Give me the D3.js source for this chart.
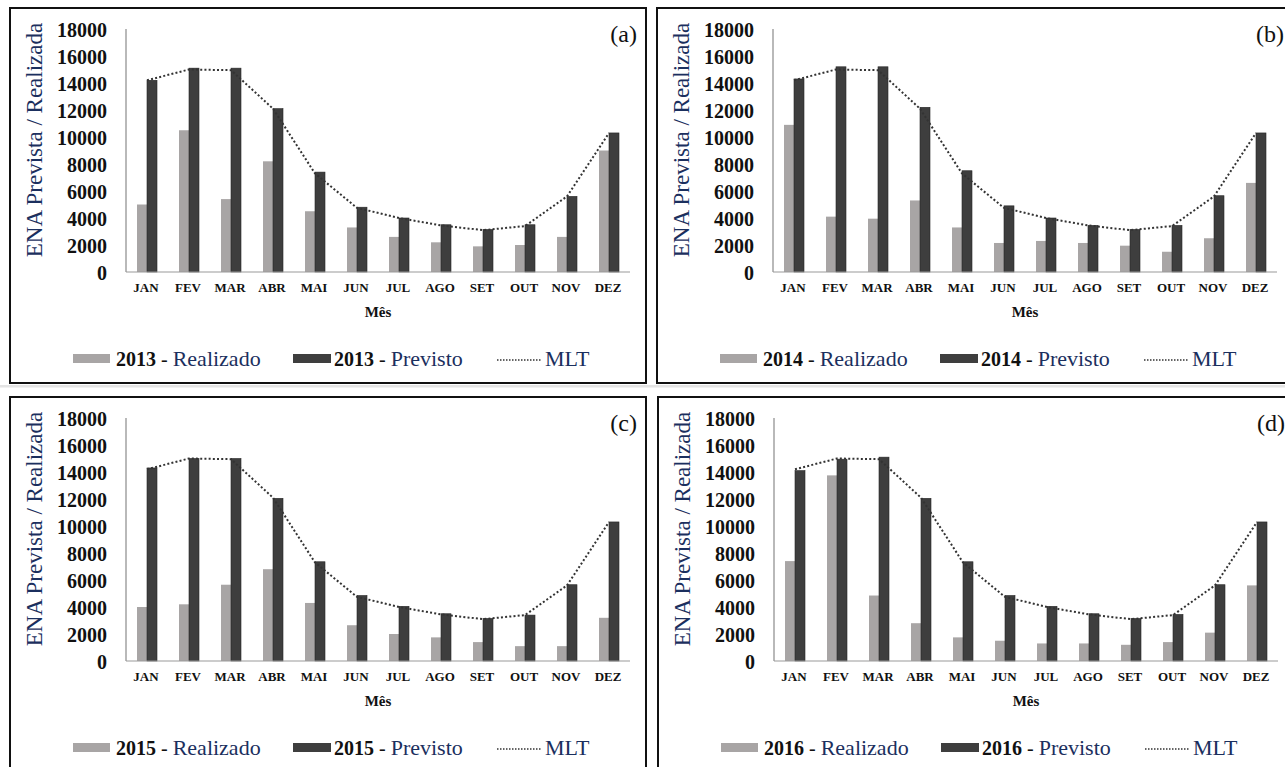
<!DOCTYPE html>
<html><head><meta charset="utf-8">
<script src="https://cdn.jsdelivr.net/npm/d3@7"></script>
<style>
html,body{margin:0;padding:0;background:#fff;}
</style></head>
<body>
<svg id="chart" width="1285" height="767"></svg>
<script>
const months = ["JAN","FEV","MAR","ABR","MAI","JUN","JUL","AGO","SET","OUT","NOV","DEZ"];
const yTicks = [0,2000,4000,6000,8000,10000,12000,14000,16000,18000];
const years = ["2013","2014","2015","2016"];
const panelLabels = ["(a)","(b)","(c)","(d)"];
const realizado2013 = [5000,10500,5400,8200,4500,3300,2600,2200,1900,2000,2600,9000];
const previsto2013  = [14200,15100,15100,12100,7400,4800,4000,3500,3150,3500,5600,10300];
const realizado2014 = [10900,4100,3950,5300,3300,2150,2300,2150,1950,1500,2500,6600];
const previsto2014  = [14300,15200,15200,12200,7500,4900,4000,3450,3150,3450,5650,10300];
const realizado2015 = [4000,4200,5650,6800,4300,2650,2000,1750,1400,1100,1100,3200];
const previsto2015  = [14300,15000,15000,12050,7350,4850,4050,3500,3150,3400,5650,10300];
const realizado2016 = [7400,13750,4850,2800,1750,1500,1300,1300,1200,1400,2100,5600];
const previsto2016  = [14100,14950,15100,12050,7350,4850,4050,3500,3150,3450,5650,10300];
const mlt = [14200,15000,14950,12100,7300,4750,4000,3450,3100,3400,5600,10300];

const realizado = [realizado2013, realizado2014, realizado2015, realizado2016];
const previsto = [previsto2013, previsto2014, previsto2015, previsto2016];

const FONT = "Liberation Serif";
const svg = d3.select("#chart");
svg.append("rect").attr("width",1285).attr("height",767).attr("fill","#fff");
svg.append("rect").attr("x",0).attr("y",385).attr("width",1285).attr("height",2.5).attr("fill","#e4e4e4");

const offsets = [[0,0],[647,0],[0,389],[648,389]];
const frameX = [10,657,10,658];
const navy = "#1b2f5e";
const grayC = "#a8a5a5", darkC = "#3e3e3e";

const x = d3.scaleBand().domain(months).range([126,630]).padding(0);
const inner = d3.scaleBand().domain(["r","p"]).range([0,x.bandwidth()]).paddingInner(0).paddingOuter(1.1);
const y = d3.scaleLinear().domain([0,18000]).range([272,29]);

function txt(sel){ return sel.append("text").style("font-family",FONT); }

years.forEach((yr,i)=>{
  const [dx,dy] = offsets[i];
  const g = svg.append("g").attr("transform",`translate(${dx},${dy})`).style("font-family",FONT);
  const gf = svg.append("g").attr("transform",`translate(0,${dy})`);
  gf.append("rect").attr("x",frameX[i]).attr("y",8).attr("width",636).attr("height",375)
    .attr("fill","none").attr("stroke","#111").attr("stroke-width",2);

  g.selectAll("rect.r").data(realizado[i]).join("rect").attr("class","r")
    .attr("x",(d,j)=>x(months[j])+inner("r")).attr("width",inner.bandwidth())
    .attr("y",d=>y(d)).attr("height",d=>y(0)-y(d)).attr("fill",grayC);
  g.selectAll("rect.p").data(previsto[i]).join("rect").attr("class","p")
    .attr("x",(d,j)=>x(months[j])+inner("p")).attr("width",inner.bandwidth())
    .attr("y",d=>y(d)).attr("height",d=>y(0)-y(d)).attr("fill",darkC)
    .attr("stroke","#262626").attr("stroke-width",0.6);

  g.append("line").attr("x1",126).attr("x2",126).attr("y1",y(18000)).attr("y2",y(0))
    .attr("stroke","#8a8a8a").attr("stroke-width",1.2);
  g.append("line").attr("x1",126).attr("x2",630).attr("y1",y(0)).attr("y2",y(0))
    .attr("stroke","#9a9a9a").attr("stroke-width",1.2);

  const line = d3.line().x((d,j)=>x(months[j])+x.bandwidth()/2).y(d=>y(d));
  g.append("path").datum(mlt).attr("d",line).attr("fill","none")
    .attr("stroke","#333").attr("stroke-width",2).attr("stroke-dasharray","2,2.2");

  g.selectAll("text.yt").data(yTicks).join("text").attr("class","yt").style("font-family",FONT)
    .attr("x",107).attr("y",d=>y(d)).attr("dy","0.4em").attr("text-anchor","end")
    .attr("font-weight","bold").attr("font-size",20).attr("fill","#111").text(d=>d);

  g.selectAll("text.xt").data(months).join("text").attr("class","xt").style("font-family",FONT)
    .attr("x",d=>x(d)+x.bandwidth()/2-1).attr("y",292).attr("text-anchor","middle")
    .attr("font-weight","bold").attr("font-size",13).attr("fill","#111").text(d=>d);

  txt(g).attr("x",378).attr("y",317).attr("text-anchor","middle")
    .attr("font-weight","bold").attr("font-size",15).attr("fill","#111").text("Mês");

  txt(g).attr("transform","translate(34,140) rotate(-90)").attr("dy","0.35em")
    .attr("text-anchor","middle").attr("font-size",23).attr("fill",navy).text("ENA Prevista / Realizada");

  txt(g).attr("x",637).attr("y",42).attr("text-anchor","end")
    .attr("font-size",24).attr("fill","#111").text(panelLabels[i]);

  g.append("rect").attr("x",73).attr("y",354).attr("width",37).attr("height",9).attr("fill",grayC);
  const t1 = txt(g).attr("x",116).attr("y",366).attr("fill","#111");
  t1.append("tspan").style("font-family",FONT).attr("font-weight","bold").attr("font-size",20).text(yr);
  t1.append("tspan").style("font-family",FONT).attr("font-size",20).text(" - ");
  t1.append("tspan").style("font-family",FONT).attr("font-size",22).attr("fill",navy).text("Realizado");

  g.append("rect").attr("x",293).attr("y",354).attr("width",38).attr("height",9).attr("fill",darkC);
  const t2 = txt(g).attr("x",334).attr("y",366).attr("fill","#111");
  t2.append("tspan").style("font-family",FONT).attr("font-weight","bold").attr("font-size",20).text(yr);
  t2.append("tspan").style("font-family",FONT).attr("font-size",20).text(" - ");
  t2.append("tspan").style("font-family",FONT).attr("font-size",22).attr("fill",navy).text("Previsto");

  g.append("line").attr("x1",497).attr("x2",542).attr("y1",360).attr("y2",360)
    .attr("stroke","#333").attr("stroke-width",1.5).attr("stroke-dasharray","1.5,1.5");
  txt(g).attr("x",545).attr("y",366).attr("font-size",22).attr("fill",navy).text("MLT");
});
</script>
</body></html>
